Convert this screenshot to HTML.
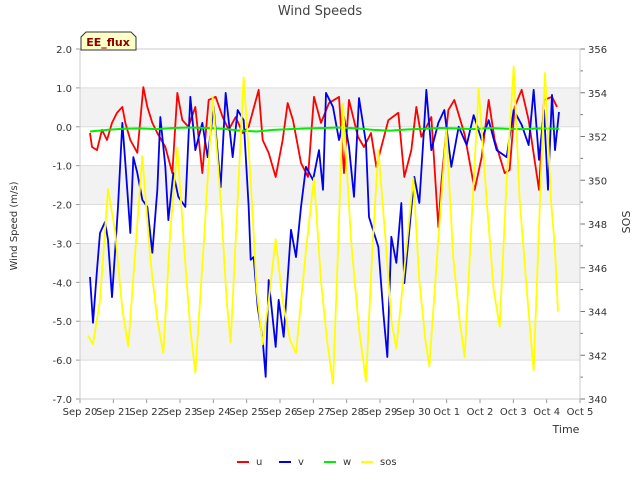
<!DOCTYPE html>
<html><head><meta charset="utf-8"><style>
body{margin:0;background:#fff;font-family:"DejaVu Sans",sans-serif;}
svg text{font-family:"DejaVu Sans",sans-serif;}
</style></head><body>
<svg id="c" width="640" height="480" xmlns="http://www.w3.org/2000/svg"></svg>
<script>
const xTickLabels=["Sep 20","Sep 21","Sep 22","Sep 23","Sep 24","Sep 25","Sep 26","Sep 27","Sep 28","Sep 29","Sep 30","Oct 1","Oct 2","Oct 3","Oct 4","Oct 5"];
const yTicks=[2,1,0,-1,-2,-3,-4,-5,-6,-7];
const y2Ticks=[340,342,344,346,348,350,352,354,356];
const uT=[0.30,0.36,0.51,0.66,0.81,0.96,1.11,1.27,1.36,1.51,1.72,1.90,2.02,2.17,2.32,2.56,2.77,2.92,3.07,3.25,3.46,3.67,3.86,4.07,4.28,4.46,4.67,4.88,5.06,5.36,5.48,5.66,5.87,6.08,6.23,6.39,6.63,6.84,7.02,7.23,7.47,7.77,7.92,8.07,8.34,8.52,8.73,8.89,9.04,9.25,9.55,9.73,9.94,10.09,10.24,10.54,10.75,10.84,11.05,11.23,11.54,11.84,12.05,12.26,12.44,12.74,12.89,13.04,13.25,13.46,13.77,13.92,14.16,14.31];
const uV=[-0.16,-0.52,-0.60,-0.08,-0.34,0.10,0.36,0.51,0.10,-0.34,-0.67,1.02,0.51,0.10,-0.16,-0.52,-1.19,0.87,0.17,0.00,0.51,-1.19,0.69,0.77,0.25,-0.08,0.25,-0.16,0.00,0.95,-0.34,-0.67,-1.29,-0.34,0.61,0.17,-0.93,-1.29,0.77,0.10,0.61,0.77,-1.19,0.69,-0.26,-0.52,-0.16,-1.03,-0.52,0.17,0.36,-1.29,-0.60,0.51,-0.26,0.25,-2.58,-1.44,0.43,0.69,-0.20,-1.62,-0.78,0.69,-0.34,-1.19,-1.11,0.51,0.95,0.17,-1.62,0.69,0.77,0.51];
const vT=[0.30,0.39,0.51,0.60,0.75,0.84,0.96,1.05,1.14,1.27,1.36,1.51,1.60,1.72,1.87,2.02,2.17,2.32,2.41,2.56,2.65,2.80,2.95,3.16,3.31,3.46,3.67,3.83,4.01,4.22,4.37,4.58,4.73,4.91,5.06,5.12,5.21,5.33,5.48,5.57,5.66,5.87,5.96,6.11,6.33,6.48,6.63,6.78,6.99,7.17,7.29,7.38,7.59,7.77,7.92,8.07,8.22,8.37,8.58,8.67,8.95,9.10,9.22,9.34,9.49,9.64,9.73,9.88,10.03,10.18,10.30,10.39,10.54,10.75,10.93,11.14,11.36,11.60,11.81,12.05,12.26,12.50,12.80,13.01,13.25,13.46,13.61,13.77,13.92,14.04,14.16,14.25,14.37];
const vV=[-3.86,-5.04,-3.68,-2.73,-2.45,-2.91,-4.38,-3.24,-2.06,0.10,-0.93,-2.73,-0.78,-1.19,-1.88,-2.06,-3.24,-1.62,0.25,-1.03,-2.40,-1.19,-1.80,-2.06,0.77,-0.60,0.10,-0.78,0.51,-1.55,0.87,-0.78,0.43,0.17,-2.06,-3.42,-3.35,-4.63,-5.48,-6.43,-3.94,-5.66,-4.45,-5.40,-2.65,-3.35,-2.06,-1.03,-1.37,-0.60,-1.62,0.87,0.51,-0.34,0.25,-0.52,-1.80,0.74,-0.42,-2.32,-3.09,-4.79,-5.92,-2.83,-3.50,-1.96,-4.02,-2.65,-1.29,-1.96,-0.34,0.95,-0.60,0.10,0.43,-1.03,0.00,-0.47,0.30,-0.34,0.17,-0.60,-0.78,0.43,0.05,-0.47,0.95,-0.85,0.43,-1.62,0.82,-0.60,0.38];
const wT=[0.30,0.8,1.3,1.8,2.3,2.8,3.3,3.8,4.3,4.8,5.3,5.8,6.3,6.8,7.3,7.8,8.3,8.8,9.3,9.8,10.3,10.8,11.3,11.8,12.3,12.8,13.3,13.8,14.37];
const wV=[-0.12,-0.08,-0.05,-0.04,-0.06,-0.03,-0.02,-0.03,-0.05,-0.10,-0.12,-0.08,-0.06,-0.04,-0.03,-0.02,-0.04,-0.08,-0.10,-0.07,-0.05,-0.03,-0.04,-0.06,-0.03,-0.05,-0.06,-0.04,-0.05];
const sT=[0.24,0.39,0.60,0.84,1.05,1.27,1.45,1.66,1.87,2.11,2.32,2.50,2.71,2.92,3.13,3.31,3.46,3.70,3.98,4.22,4.40,4.52,4.73,4.91,5.12,5.30,5.48,5.66,5.87,6.08,6.30,6.48,6.78,7.02,7.23,7.41,7.59,7.74,7.89,8.13,8.37,8.58,8.77,8.95,9.19,9.34,9.49,9.76,10.0,10.18,10.36,10.48,10.75,10.99,11.20,11.39,11.54,11.75,11.96,12.20,12.41,12.59,12.80,13.01,13.19,13.43,13.61,13.80,13.95,14.13,14.25,14.34];
const sV=[342.9,342.5,344.5,349.6,347.7,344.1,342.4,346.8,351.1,346.4,343.6,342.1,347.7,351.5,346.8,343.2,341.2,346.8,353.8,349.1,344.5,342.6,349.1,354.7,350.0,345.0,342.5,344.5,347.3,344.5,342.7,342.1,346.8,350.1,345.4,342.7,340.7,346.8,353.5,347.3,343.2,340.8,346.8,351.4,346.8,343.6,342.3,346.4,350.1,345.4,342.7,341.5,347.3,352.3,346.4,343.6,341.9,348.2,354.2,349.1,345.0,343.3,350.0,355.2,349.1,344.5,341.3,349.1,354.9,349.1,346.8,344.0];

const L=80,R=580,T=49,B=399;
const X=d=>L+d*(R-L)/15;
const Y=v=>T+(2-v)*(B-T)/9;
const Y2=v=>B-(v-340)*(B-T)/16;
const svg=document.getElementById('c');
const NS='http://www.w3.org/2000/svg';
function mk(tag,at,parent){const e=document.createElementNS(NS,tag);for(const k in at)e.setAttribute(k,at[k]);(parent||svg).appendChild(e);return e;}

const bandVals=[1,-1,-3,-5];
bandVals.forEach(v=>{const r=mk('rect',{x:L,y:Y(v),width:R-L,height:Y(v-1)-Y(v),fill:'#f2f2f2'});

});
yTicks.forEach(v=>{const g=mk('line',{x1:L,x2:R,y1:Y(v),y2:Y(v),stroke:'#dcdcdc','stroke-width':1});


const tk=mk('line',{x1:L-4,x2:L,y1:Y(v),y2:Y(v),stroke:'#999'});
const t=mk('text',{x:72,y:Y(v)+4,'text-anchor':'end','font-size':10,fill:'#333'});t.textContent=v.toFixed(1);

});
for(let v=340;v<=356;v++){mk('line',{x1:R,x2:R+(v%2?3:5),y1:Y2(v),y2:Y2(v),stroke:'#777'});}
y2Ticks.forEach(v=>{const t=mk('text',{x:588,y:Y2(v)+4,'font-size':10,fill:'#333'});t.textContent=v;

});
xTickLabels.forEach((s,i)=>{mk('line',{x1:X(i),x2:X(i),y1:B,y2:B+4,stroke:'#999'});
const t=mk('text',{x:X(i),y:415,'text-anchor':'middle','font-size':10,fill:'#333'});t.textContent=s;

});
const fr=mk('rect',{x:L,y:T,width:R-L,height:B-T,fill:'none',stroke:'#cccccc'});



function line(ts,vs,fy,col,name,w){const p=mk('polyline',{points:ts.map((t,i)=>X(t)+','+fy(vs[i])).join(' '),fill:'none',stroke:col,'stroke-width':w,'stroke-linejoin':'round'});

}
line(uT,uV,Y,'#ff0000','series-u',1.8);
line(vT,vV,Y,'#0000ee','series-v',1.8);
line(wT,wV,Y,'#00ee00','series-w',2);
line(sT,sV,Y2,'#ffff00','series-sos',1.8);

function txt(s,at,name){const t=mk('text',at);t.textContent=s;

return t;}
txt('Wind Speeds',{x:320,y:15,'text-anchor':'middle','font-size':13,fill:'#444'},'chart-title');
txt('Wind Speed (m/s)',{x:17,y:226,'text-anchor':'middle','font-size':10,fill:'#333',transform:'rotate(-90 17 226)'},'y-axis-title');
txt('SOS',{x:630,y:222,'text-anchor':'middle','font-size':11,fill:'#333',transform:'rotate(-90 630 222)'},'y2-axis-title');
txt('Time',{x:566,y:433,'text-anchor':'middle','font-size':11,fill:'#333'},'x-axis-title');
const bx=mk('path',{d:'M81,50 L81,37 L86,32 L131,32 L136,37 L136,50 Z',fill:'#ffffc8',stroke:'#333','stroke-width':1});


txt('EE_flux',{x:108,y:46,'text-anchor':'middle','font-size':11,'font-weight':'bold',fill:'#8b0000'},'site-label');
const leg=[['u','#ff0000',237],['v','#0000ee',279],['w','#00ee00',324],['sos','#ffff00',361]];
leg.forEach(l=>{const g=mk('g',{});


mk('line',{x1:l[2],x2:l[2]+12,y1:462,y2:462,stroke:l[1],'stroke-width':2},g);
const t=mk('text',{x:l[2]+19,y:465,'font-size':10,fill:'#333'},g);t.textContent=l[0];});
</script>
</body></html>
